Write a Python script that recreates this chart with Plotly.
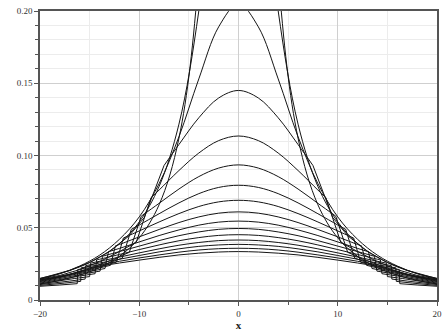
import plotly.graph_objects as go

# ---- data (right half; every curve is mirrored about x = 0) ----
grid_x = [0, 2, 4, 6, 8, 10, 12, 14, 16, 18, 20]

# smooth curves (no shoulder)
tall_1 = [1.16, 0.569, 0.225, 0.112, 0.0659, 0.0430, 0.0302, 0.0224, 0.0172, 0.0136, 0.0111]
tall_2 = [0.412, 0.326, 0.200, 0.1217, 0.0786, 0.0540, 0.0391, 0.0295, 0.0229, 0.0183, 0.0150]
c01 = [0.205, 0.189, 0.153, 0.113, 0.0805, 0.0575, 0.042, 0.031, 0.0235, 0.0182, 0.0145]

# curves with a top part, a drop at the shoulder and a flat tail
c02_top_x = [0, 2, 4, 6, 7.5]
c02_top_y = [0.145, 0.1398, 0.1261, 0.1076, 0.0931]
c02_tail_x = [9.5, 11, 13, 15, 17, 20]
c02_tail_y = [0.057, 0.0445, 0.0335, 0.026, 0.0205, 0.0148]

c03_top_x = [0, 2, 4, 6, 8, 8.8]
c03_top_y = [0.1135, 0.1103, 0.1017, 0.0896, 0.0761, 0.0709]
c03_tail_x = [10.3, 12, 14, 16, 18, 20]
c03_tail_y = [0.040, 0.0335, 0.0265, 0.021, 0.017, 0.0145]

c04_top_x = [0, 2, 4, 6, 8, 9.8]
c04_top_y = [0.0935, 0.0913, 0.0854, 0.0768, 0.0669, 0.058]
c04_tail_x = [11, 12.5, 14.5, 16.5, 18, 20]
c04_tail_y = [0.033, 0.0285, 0.0232, 0.0188, 0.016, 0.0141]

c05_top_x = [0, 2, 4, 6, 8, 10, 10.8]
c05_top_y = [0.0794, 0.0779, 0.0736, 0.0672, 0.0597, 0.0519, 0.0489]
c05_tail_x = [11.7, 13, 15, 17, 20]
c05_tail_y = [0.029, 0.0258, 0.0215, 0.0178, 0.0138]

c06_top_x = [0, 2, 4, 6, 8, 10, 11.6]
c06_top_y = [0.069, 0.0679, 0.0647, 0.0598, 0.054, 0.0478, 0.0429]
c06_tail_x = [12.3, 13.5, 15.5, 17.5, 20]
c06_tail_y = [0.0262, 0.0238, 0.0202, 0.0169, 0.0135]

c07_top_x = [0, 2, 4, 6, 8, 10, 12, 12.4]
c07_top_y = [0.061, 0.0601, 0.0575, 0.0536, 0.0488, 0.0437, 0.0384, 0.0375]
c07_tail_x = [12.9, 14, 16, 18, 20]
c07_tail_y = [0.024, 0.0222, 0.0189, 0.0158, 0.0131]

c08_top_x = [0, 2, 4, 6, 8, 10, 12, 13.1]
c08_top_y = [0.0546, 0.0539, 0.0518, 0.0485, 0.0446, 0.0402, 0.0357, 0.0334]
c08_tail_x = [13.45, 15, 17, 20]
c08_tail_y = [0.0218, 0.0198, 0.0168, 0.0127]

c09_top_x = [0, 2, 4, 6, 8, 10, 12, 13.7]
c09_top_y = [0.0495, 0.0489, 0.0471, 0.0445, 0.0411, 0.0373, 0.0335, 0.0303]
c09_tail_x = [13.95, 15.5, 17.5, 20]
c09_tail_y = [0.020, 0.0182, 0.0157, 0.0122]

c10_top_x = [0, 2, 4, 6, 8, 10, 12, 14, 14.3]
c10_top_y = [0.0452, 0.0447, 0.0432, 0.041, 0.0381, 0.0349, 0.0315, 0.0282, 0.0277]
c10_tail_x = [14.45, 16, 18, 20]
c10_tail_y = [0.0182, 0.0166, 0.0142, 0.0117]

c11_top_x = [0, 2, 4, 6, 8, 10, 12, 14, 14.9]
c11_top_y = [0.0415, 0.0411, 0.0398, 0.0379, 0.0354, 0.0326, 0.0297, 0.0268, 0.0255]
c11_tail_x = [15.0, 16.5, 18.2, 20]
c11_tail_y = [0.0162, 0.0149, 0.0131, 0.0112]

c12_top_x = [0, 2, 4, 6, 8, 10, 12, 14, 15.4]
c12_top_y = [0.0385, 0.0381, 0.0371, 0.0354, 0.0333, 0.0308, 0.0282, 0.0256, 0.0238]
c12_tail_x = [15.45, 17, 18.5, 20]
c12_tail_y = [0.0145, 0.0131, 0.0119, 0.0107]

c13_top_x = [0, 2, 4, 6, 8, 10, 12, 14, 15.85]
c13_top_y = [0.0358, 0.0355, 0.0346, 0.0331, 0.0312, 0.0291, 0.0268, 0.0244, 0.0223]
c13_tail_x = [15.9, 17.5, 20]
c13_tail_y = [0.0129, 0.0117, 0.0101]

c14_top_x = [0, 2, 4, 6, 8, 10, 12, 14, 16.2]
c14_top_y = [0.0335, 0.0332, 0.0324, 0.0312, 0.0295, 0.0276, 0.0256, 0.0234, 0.0211]
c14_tail_x = [16.25, 18, 20]
c14_tail_y = [0.0113, 0.0104, 0.0095]

x_ticks = [-20, -10, 0, 10, 20]
x_tick_text = ["\u221220", "\u221210", "0", "10", "20"]
y_ticks = [0, 0.05, 0.10, 0.15, 0.20]
y_tick_text = ["0", "0.05", "0.10", "0.15", "0.20"]

smooth_curves = [tall_1, tall_2, c01]
shoulder_curves = [
    (c02_top_x, c02_top_y, c02_tail_x, c02_tail_y),
    (c03_top_x, c03_top_y, c03_tail_x, c03_tail_y),
    (c04_top_x, c04_top_y, c04_tail_x, c04_tail_y),
    (c05_top_x, c05_top_y, c05_tail_x, c05_tail_y),
    (c06_top_x, c06_top_y, c06_tail_x, c06_tail_y),
    (c07_top_x, c07_top_y, c07_tail_x, c07_tail_y),
    (c08_top_x, c08_top_y, c08_tail_x, c08_tail_y),
    (c09_top_x, c09_top_y, c09_tail_x, c09_tail_y),
    (c10_top_x, c10_top_y, c10_tail_x, c10_tail_y),
    (c11_top_x, c11_top_y, c11_tail_x, c11_tail_y),
    (c12_top_x, c12_top_y, c12_tail_x, c12_tail_y),
    (c13_top_x, c13_top_y, c13_tail_x, c13_tail_y),
    (c14_top_x, c14_top_y, c14_tail_x, c14_tail_y),
]

LINE = dict(color="#151515", width=1.0)


def mirror(xs, ys):
    return [-v for v in xs[::-1]] + list(xs[1:]), list(ys[::-1]) + list(ys[1:])


fig = go.Figure()
for ys in smooth_curves:
    mx, my = mirror(grid_x, ys)
    fig.add_trace(go.Scatter(x=mx, y=my, mode="lines", line=dict(**LINE, shape="spline", smoothing=1.0),
                             showlegend=False, hoverinfo="skip"))

for tx, ty, lx, ly in shoulder_curves:
    mx, my = mirror(tx, ty)
    fig.add_trace(go.Scatter(x=mx, y=my, mode="lines", line=dict(**LINE, shape="spline", smoothing=1.0),
                             showlegend=False, hoverinfo="skip"))
    for sgn in (1, -1):
        fig.add_trace(go.Scatter(x=[sgn * tx[-1]] + [sgn * v for v in lx], y=[ty[-1]] + list(ly),
                                 mode="lines", line=dict(**LINE, shape="linear"),
                                 showlegend=False, hoverinfo="skip"))

axis_font = dict(family="Liberation Serif, Times New Roman, serif", size=9, color="#333")
fig.update_layout(
    width=448, height=336, margin=dict(l=40, r=8, t=6, b=30),
    paper_bgcolor="white", plot_bgcolor="white",
    xaxis=dict(range=[-20, 20], tickvals=x_ticks, ticktext=x_tick_text,
               ticks="outside", ticklen=4, tickcolor="#555", tickfont=axis_font,
               showline=True, linecolor="#555", linewidth=1.5, mirror=True,
               showgrid=True, gridcolor="#cfcfcf", gridwidth=1, zeroline=False,
               minor=dict(tickvals=[-15, -5, 5, 15], ticks="outside", ticklen=3, tickcolor="#555",
                          showgrid=True, gridcolor="#ececec"),
               title=dict(text="<b>x</b>", font=dict(family="Liberation Serif, serif", size=11, color="#222"), standoff=4)),
    yaxis=dict(range=[0, 0.2], tickvals=y_ticks, ticktext=y_tick_text,
               ticks="outside", ticklen=4, tickcolor="#555", tickfont=axis_font,
               showline=True, linecolor="#555", linewidth=1.5, mirror=True,
               showgrid=True, gridcolor="#cfcfcf", gridwidth=1, zeroline=False,
               minor=dict(dtick=0.01, ticks="outside", ticklen=3, tickcolor="#555",
                          showgrid=True, gridcolor="#ececec")),
)
fig.write_html("out.html")
